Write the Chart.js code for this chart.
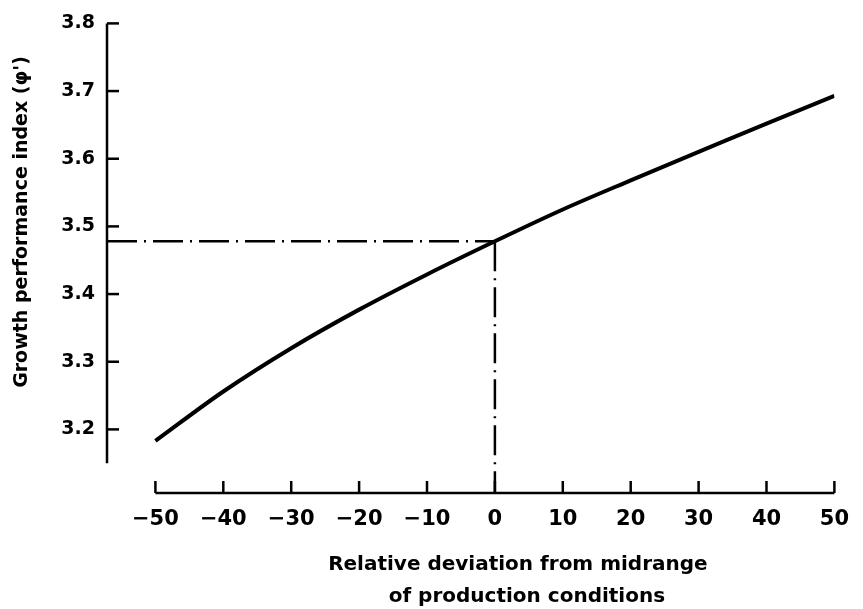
<!DOCTYPE html>
<html>
<head>
<meta charset="utf-8">
<script src="https://cdn.jsdelivr.net/npm/chart.js@4.4.0/dist/chart.umd.min.js"></script>
<style>
  body { margin: 0; background: #fff; }
</style>
</head>
<body>
<canvas id="myChart" width="863" height="609"></canvas>
<script>
const ctx = document.getElementById('myChart')

// relative deviation from midrange (%)
const deviation = [-50, -40, -30, -20, -10, 0, 10, 20, 30, 40, 50]
// growth performance index phi'
const phi = [3.183, 3.256, 3.320, 3.377, 3.429, 3.478, 3.525, 3.568, 3.610, 3.652, 3.693]

const xTicks = [-50, -40, -30, -20, -10, 0, 10, 20, 30, 40, 50]
const yTicks = [3.2, 3.3, 3.4, 3.5, 3.6, 3.7, 3.8]

// midrange reading
const midX = 0
const midPhi = 3.478

const X_MIN = -57.13
const Y_MIN = 3.106
const Y_AXIS_END = 3.15

const font = 'DejaVu Sans'
const dashDot = [30, 7, 2, 7]

const axesPlugin = {
    id: 'axes',
    afterDraw(chart) {
        const c = chart.ctx
        const xs = chart.scales.x
        const ys = chart.scales.y
        const area = chart.chartArea
        c.save()
        c.strokeStyle = '#000'
        c.lineWidth = 2.5
        c.lineCap = 'butt'
        // y axis
        const ax = area.left
        c.beginPath()
        c.moveTo(ax, ys.getPixelForValue(yTicks[yTicks.length - 1]))
        c.lineTo(ax, ys.getPixelForValue(Y_AXIS_END))
        c.stroke()
        yTicks.forEach(v => {
            const y = ys.getPixelForValue(v)
            c.beginPath()
            c.moveTo(ax, y)
            c.lineTo(ax + 12, y)
            c.stroke()
        })
        // x axis
        const ay = area.bottom
        c.beginPath()
        c.moveTo(xs.getPixelForValue(xTicks[0]), ay)
        c.lineTo(xs.getPixelForValue(xTicks[xTicks.length - 1]), ay)
        c.stroke()
        xTicks.forEach(v => {
            const x = xs.getPixelForValue(v)
            c.beginPath()
            c.moveTo(x, ay)
            c.lineTo(x, ay - 12)
            c.stroke()
        })
        // titles
        c.fillStyle = '#000'
        c.textAlign = 'center'
        c.textBaseline = 'middle'
        const cx = (xs.getPixelForValue(xTicks[0]) + xs.getPixelForValue(xTicks[xTicks.length - 1])) / 2
        c.font = 'bold 20px "' + font + '"'
        c.fillText('Relative deviation from midrange', cx + 23, 565)
        c.fillText('of production conditions', cx + 32, 597)
        c.font = 'bold 19px "' + font + '"'
        c.translate(22, 222)
        c.rotate(-Math.PI / 2)
        c.fillText("Growth performance index (\u03C6')", 0, 0)
        c.restore()
    }
}

const config = {
    type: 'line',
    data: {
        datasets: [{
            data: deviation.map((d, i) => ({x: d, y: phi[i]})),
            borderColor: '#000',
            borderWidth: 4,
            pointRadius: 0,
            cubicInterpolationMode: 'monotone',
            fill: false
        }, {
            data: [{x: X_MIN, y: midPhi}, {x: midX, y: midPhi}],
            borderColor: '#000',
            borderWidth: 2.5,
            borderDash: dashDot,
            pointRadius: 0
        }, {
            data: [{x: midX, y: midPhi}, {x: midX, y: Y_MIN}],
            borderColor: '#000',
            borderWidth: 2.5,
            borderDash: dashDot,
            pointRadius: 0
        }]
    },
    options: {
        responsive: false,
        animation: false,
        layout: { padding: { top: 19, right: 20, left: 0, bottom: 0 } },
        plugins: { legend: { display: false }, tooltip: { enabled: false } },
        scales: {
            x: {
                type: 'linear',
                min: X_MIN,
                max: 50,
                grid: { display: false, drawTicks: false },
                border: { display: false },
                afterBuildTicks: s => { s.ticks = xTicks.map(v => ({value: v})) },
                afterFit: s => { s.height = 116 },
                ticks: {
                    padding: 14,
                    color: '#000',
                    font: { family: font, size: 21, weight: 'bold' },
                    maxRotation: 0,
                    autoSkip: false,
                    callback: v => String(v).replace('-', '\u2212')
                }
            },
            y: {
                min: Y_MIN,
                max: 3.8,
                grid: { display: false, drawTicks: false },
                border: { display: false },
                afterBuildTicks: s => { s.ticks = yTicks.map(v => ({value: v})) },
                afterFit: s => { s.width = 107 },
                ticks: {
                    padding: 12,
                    color: '#000',
                    font: { family: font, size: 19, weight: 'bold' },
                    callback: v => v.toFixed(1)
                }
            }
        }
    },
    plugins: [axesPlugin]
}

const myChart = new Chart(ctx, config)
</script>
</body>
</html>
